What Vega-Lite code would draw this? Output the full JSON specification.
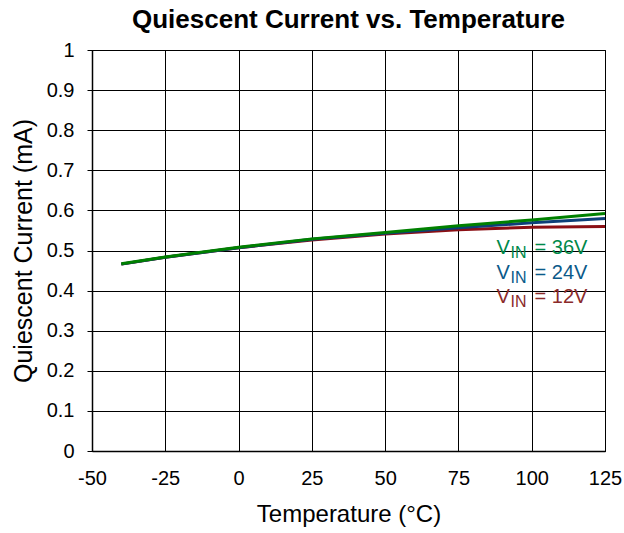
{
  "$schema": "https://vega.github.io/schema/vega-lite/v6.json",
  "width": 513,
  "height": 401,
  "autosize": "none",
  "padding": {"left": 92, "top": 50, "right": 19, "bottom": 82},
  "background": "white",
  "config": {
    "font": "Liberation Sans",
    "view": {"stroke": "black", "strokeWidth": 1}
  },
  "title": {
    "text": "Quiescent Current vs. Temperature",
    "fontSize": 26,
    "fontWeight": "bold",
    "font": "Liberation Sans",
    "color": "black",
    "anchor": "middle",
    "offset": 7
  },
  "datasets": {
    "curves": [
      {"vin": "12V", "temp": -40, "iq": 0.466},
      {"vin": "12V", "temp": -25, "iq": 0.483},
      {"vin": "12V", "temp": 0, "iq": 0.507},
      {"vin": "12V", "temp": 25, "iq": 0.526},
      {"vin": "12V", "temp": 50, "iq": 0.541},
      {"vin": "12V", "temp": 75, "iq": 0.552},
      {"vin": "12V", "temp": 100, "iq": 0.558},
      {"vin": "12V", "temp": 125, "iq": 0.560},
      {"vin": "24V", "temp": -40, "iq": 0.466},
      {"vin": "24V", "temp": -25, "iq": 0.483},
      {"vin": "24V", "temp": 0, "iq": 0.507},
      {"vin": "24V", "temp": 25, "iq": 0.528},
      {"vin": "24V", "temp": 50, "iq": 0.543},
      {"vin": "24V", "temp": 75, "iq": 0.557},
      {"vin": "24V", "temp": 100, "iq": 0.569},
      {"vin": "24V", "temp": 125, "iq": 0.580},
      {"vin": "36V", "temp": -40, "iq": 0.467},
      {"vin": "36V", "temp": -25, "iq": 0.484},
      {"vin": "36V", "temp": 0, "iq": 0.508},
      {"vin": "36V", "temp": 25, "iq": 0.529},
      {"vin": "36V", "temp": 50, "iq": 0.545},
      {"vin": "36V", "temp": 75, "iq": 0.562},
      {"vin": "36V", "temp": 100, "iq": 0.576},
      {"vin": "36V", "temp": 125, "iq": 0.592}
    ],
    "labels": [
      {"vin": "36V", "temp": 88, "iq": 0.505, "v": "V", "sub": "IN", "rest": "=  36V"},
      {"vin": "24V", "temp": 88, "iq": 0.443, "v": "V", "sub": "IN", "rest": "=  24V"},
      {"vin": "12V", "temp": 88, "iq": 0.383, "v": "V", "sub": "IN", "rest": "=  12V"}
    ]
  },
  "encoding": {
    "x": {
      "field": "temp",
      "type": "quantitative",
      "scale": {"domain": [-50, 125], "nice": false, "zero": false},
      "axis": {
        "values": [-50, -25, 0, 25, 50, 75, 100, 125],
        "labelExpr": "'' + datum.value",
        "grid": true,
        "gridColor": "black",
        "gridOpacity": 1,
        "gridWidth": 1,
        "domainColor": "black",
        "domainWidth": 1.5,
        "ticks": false,
        "labelFontSize": 20,
        "labelColor": "black",
        "labelPadding": 17,
        "labelFlush": false,
        "title": "Temperature (°C)",
        "titleFontSize": 24,
        "titleFontWeight": "normal",
        "titleColor": "black",
        "titlePadding": 14
      }
    },
    "y": {
      "field": "iq",
      "type": "quantitative",
      "scale": {"domain": [0, 1], "nice": false},
      "axis": {
        "values": [0, 0.1, 0.2, 0.3, 0.4, 0.5, 0.6, 0.7, 0.8, 0.9, 1],
        "format": "~g",
        "grid": true,
        "gridColor": "black",
        "gridOpacity": 1,
        "gridWidth": 1,
        "domainColor": "black",
        "domainWidth": 1.5,
        "ticks": true,
        "tickSize": 5,
        "tickColor": "black",
        "labelFontSize": 20,
        "labelColor": "black",
        "labelPadding": 13,
        "labelFlush": false,
        "title": "Quiescent Current (mA)",
        "titleFontSize": 25,
        "titleFontWeight": "normal",
        "titleColor": "black",
        "titlePadding": 10
      }
    }
  },
  "layer": [
    {
      "data": {"name": "curves"},
      "transform": [{"filter": "datum.vin === '12V'"}],
      "mark": {"type": "line", "strokeWidth": 3, "color": "#8b0f14"}
    },
    {
      "data": {"name": "curves"},
      "transform": [{"filter": "datum.vin === '24V'"}],
      "mark": {"type": "line", "strokeWidth": 3, "color": "#0d3f78"}
    },
    {
      "data": {"name": "curves"},
      "transform": [{"filter": "datum.vin === '36V'"}],
      "mark": {"type": "line", "strokeWidth": 3, "color": "#008000"}
    },
    {
      "data": {"name": "labels"},
      "mark": {"type": "text", "align": "left", "baseline": "middle", "fontSize": 20},
      "encoding": {
        "text": {"field": "v"},
        "color": {"field": "vin", "type": "nominal", "scale": {"domain": ["12V", "24V", "36V"], "range": ["#8b2a2a", "#0b5a8a", "#00894a"]}, "legend": null}
      }
    },
    {
      "data": {"name": "labels"},
      "mark": {"type": "text", "align": "left", "baseline": "middle", "fontSize": 16, "dx": 14, "dy": 5},
      "encoding": {
        "text": {"field": "sub"},
        "color": {"field": "vin", "type": "nominal", "legend": null}
      }
    },
    {
      "data": {"name": "labels"},
      "mark": {"type": "text", "align": "left", "baseline": "middle", "fontSize": 20, "dx": 38},
      "encoding": {
        "text": {"field": "rest"},
        "color": {"field": "vin", "type": "nominal", "legend": null}
      }
    }
  ]
}
